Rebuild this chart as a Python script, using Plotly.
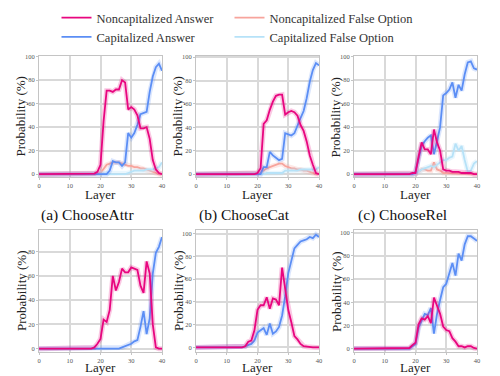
import plotly.graph_objects as go

layers = list(range(41))

# Panel (a) ChooseAttr
a_noncap_ans = [0]*18 + [0.5, 2, 8, 45, 71, 71, 70, 72, 72, 80, 78, 55, 57, 55, 50, 39, 39, 40, 30, 12, 4, 1, 0]
a_cap_ans = [0]*23 + [3, 11, 10, 10, 7, 10, 35, 31, 35, 42, 51, 52, 53, 70, 83, 91, 94, 88]
a_noncap_false = [0]*20 + [1, 5, 8, 9, 10, 10, 10, 9, 8, 7, 7, 6, 6, 5, 5, 4, 3, 2, 1, 0, 0]
a_cap_false = [0]*29 + [1, 2, 3, 3, 3, 3, 4, 4, 4, 5, 6, 10]

# Panel (b) ChooseCat
b_noncap_ans = [0]*20 + [1, 5, 43, 46, 55, 62, 67, 68, 68, 51, 53, 54, 53, 50, 42, 37, 28, 16, 8, 1, 0]
b_cap_ans = [0]*22 + [6, 6, 19, 16, 14, 12, 13, 35, 34, 33, 35, 42, 48, 54, 65, 79, 89, 95, 93]
b_noncap_false = [0]*21 + [1, 3, 5, 6, 7, 8, 9, 9, 7, 6, 5, 5, 4, 4, 3, 3, 2, 1, 0, 0]
b_cap_false = [0]*23 + [1, 1, 1, 1, 1, 1, 3, 3, 3, 3, 3, 4, 4, 4, 4, 4, 4, 6]

# Panel (c) ChooseRel
c_noncap_ans = [0]*19 + [1, 1, 15, 27, 21, 21, 17, 38, 27, 20, 4, 3, 3, 2, 2, 2, 1, 1, 1, 1, 0, 0]
c_cap_ans = [0]*20 + [2, 12, 24, 28, 31, 33, 17, 28, 40, 67, 69, 72, 78, 65, 76, 71, 85, 95, 96, 90, 89]
c_noncap_false = [0]*21 + [2, 4, 4, 3, 3, 10, 4, 3, 1, 1, 1, 1, 0.5, 0.5, 0.5, 0.5, 0, 0, 0, 0]
c_cap_false = [0]*21 + [2, 4, 5, 6, 7, 6, 8, 10, 12, 12, 14, 15, 26, 20, 24, 12, 2, 3, 9, 11]

# Panel (d)
d_noncap_ans = [0]*18 + [1, 4, 8, 24, 22, 32, 60, 48, 55, 66, 63, 63, 67, 66, 65, 52, 46, 72, 62, 20, 1, 0, 0]
d_cap_ans = [0]*27 + [1, 2, 3, 4, 6, 7, 18, 31, 12, 25, 62, 79, 84, 92]

# Panel (e)
e_noncap_ans = [0]*16 + [1, 5, 6, 15, 33, 37, 37, 44, 34, 43, 42, 37, 70, 50, 33, 22, 10, 7, 3, 1, 0.5, 0, 0, 0, 0]
e_cap_ans = [0]*16 + [1, 2, 3, 6, 13, 15, 17, 11, 21, 12, 14, 18, 28, 45, 65, 76, 87, 90, 93, 94, 95, 97, 96, 99, 97]

# Panel (f)
f_noncap_ans = [0]*18 + [0.5, 3, 5, 21, 26, 25, 28, 22, 44, 37, 30, 19, 16, 15, 9, 6, 2, 2, 1, 2, 2, 0.5, 0]
f_cap_ans = [0]*19 + [2, 4, 18, 24, 30, 29, 35, 13, 30, 42, 53, 56, 65, 74, 63, 82, 76, 90, 97, 97, 95, 93]

captions = ["(a) ChooseAttr", "(b) ChooseCat", "(c) ChooseRel"]
x_title = "Layer"
y_title = "Probability (%)"
series_names = ["Noncapitalized Answer", "Capitalized Answer",
                "Noncapitalized False Option", "Capitalized False Option"]
legend_of = {"Noncapitalized Answer": "legend", "Capitalized Answer": "legend",
             "Noncapitalized False Option": "legend2", "Capitalized False Option": "legend2"}
colors = {"Noncapitalized Answer": "#e8067f",
          "Noncapitalized False Option": "#f7a49c",
          "Capitalized Answer": "#5b8ef5",
          "Capitalized False Option": "#b6e2f8"}
bands = {"Noncapitalized Answer": "rgba(232,6,127,0.22)",
         "Noncapitalized False Option": "rgba(247,164,156,0.25)",
         "Capitalized Answer": "rgba(91,142,245,0.22)",
         "Capitalized False Option": "rgba(182,226,248,0.3)"}

panels = [
    {"Noncapitalized Answer": a_noncap_ans, "Noncapitalized False Option": a_noncap_false,
     "Capitalized Answer": a_cap_ans, "Capitalized False Option": a_cap_false},
    {"Noncapitalized Answer": b_noncap_ans, "Noncapitalized False Option": b_noncap_false,
     "Capitalized Answer": b_cap_ans, "Capitalized False Option": b_cap_false},
    {"Noncapitalized Answer": c_noncap_ans, "Noncapitalized False Option": c_noncap_false,
     "Capitalized Answer": c_cap_ans, "Capitalized False Option": c_cap_false},
    {"Noncapitalized Answer": d_noncap_ans, "Capitalized Answer": d_cap_ans},
    {"Noncapitalized Answer": e_noncap_ans, "Capitalized Answer": e_cap_ans},
    {"Noncapitalized Answer": f_noncap_ans, "Capitalized Answer": f_cap_ans},
]

W, H = 500, 376
xdoms = [[0.078, 0.324], [0.392, 0.638], [0.708, 0.954]]
ydoms = [[0.529, 0.851], [0.064, 0.388]]
yranges = [[-2.5, 100.5], [-2.5, 101], [-2.5, 100.5], [-2.7, 97.8], [-4, 103], [-2.9, 102.3]]

FONT = "Liberation Serif"
fig = go.Figure()

draw_order = ["Noncapitalized False Option", "Capitalized False Option",
              "Capitalized Answer", "Noncapitalized Answer"]
legend_rank = {n: i for i, n in enumerate(series_names)}

for i, pdata in enumerate(panels):
    ax = "" if i == 0 else str(i + 1)
    for name in draw_order:
        if name not in pdata:
            continue
        vals = pdata[name]
        fig.add_trace(go.Scatter(x=layers, y=vals, mode="lines",
                                 line=dict(color=bands[name], width=5),
                                 showlegend=False, hoverinfo="skip",
                                 xaxis="x" + ax, yaxis="y" + ax))
        fig.add_trace(go.Scatter(x=layers, y=vals, mode="lines", name=name,
                                 line=dict(color=colors[name], width=1.8),
                                 showlegend=(i == 0), legendrank=legend_rank[name],
                                 legend=legend_of[name],
                                 xaxis="x" + ax, yaxis="y" + ax))

leg_common = dict(orientation="v", y=0.992, xanchor="left", yanchor="top",
                  font=dict(size=12.5, family=FONT, color="#333"),
                  traceorder="normal", tracegroupgap=0, itemwidth=30,
                  bgcolor="rgba(0,0,0,0)")

layout = dict(
    width=W, height=H,
    margin=dict(l=0, r=0, t=0, b=0, autoexpand=False),
    paper_bgcolor="white", plot_bgcolor="white",
    font=dict(family=FONT, color="#222"),
    legend=dict(x=0.113, **leg_common),
    legend2=dict(x=0.459, **leg_common),
    showlegend=True,
)

for i in range(6):
    ax = "" if i == 0 else str(i + 1)
    row, col = divmod(i, 3)
    layout["xaxis" + ax] = dict(
        domain=xdoms[col], anchor="y" + ax, range=[0, 40],
        tickvals=[0, 10, 20, 30, 40], showgrid=True, gridcolor="#d9d9d9", gridwidth=1.5,
        showline=True, mirror=True, linecolor="#c4c4c4", linewidth=1,
        ticks="outside", ticklen=2, tickcolor="#c4c4c4",
        tickfont=dict(size=6.5, family=FONT, color="#555"),
        zeroline=False,
    )
    layout["yaxis" + ax] = dict(
        domain=ydoms[row], anchor="x" + ax, range=yranges[i],
        tickvals=[0, 20, 40, 60, 80, 100], showgrid=True, gridcolor="#d9d9d9", gridwidth=1.5,
        showline=True, mirror=True, linecolor="#c4c4c4", linewidth=1,
        ticks="outside", ticklen=2, tickcolor="#c4c4c4",
        tickfont=dict(size=6.5, family=FONT, color="#555"),
        zeroline=False,
    )

fig.update_layout(**layout)

# axis titles placed as paper annotations
title_font = dict(size=13, family=FONT, color="#222")
xtitle_y = [194, 367]
for row in range(2):
    for col in range(3):
        cx = (xdoms[col][0] + xdoms[col][1]) / 2
        fig.add_annotation(x=cx, y=(H - xtitle_y[row]) / H, xref="paper", yref="paper",
                           text=x_title, showarrow=False, xanchor="center", yanchor="middle",
                           font=title_font)
        cy = (ydoms[row][0] + ydoms[row][1]) / 2
        fig.add_annotation(x=xdoms[col][0] - 18 / W, y=cy, xref="paper", yref="paper",
                           text=y_title, showarrow=False, textangle=-90,
                           xanchor="center", yanchor="middle", font=title_font)

cap_x = [87, 244, 402]
for cx, cap in zip(cap_x, captions):
    fig.add_annotation(x=cx / W, y=(H - 215) / H, xref="paper", yref="paper",
                       text=cap, showarrow=False, xanchor="center", yanchor="middle",
                       font=dict(size=15.5, family=FONT, color="#111"))

fig.write_html("out.html", config={"displayModeBar": False},
               post_script="document.body.style.margin='0';")
